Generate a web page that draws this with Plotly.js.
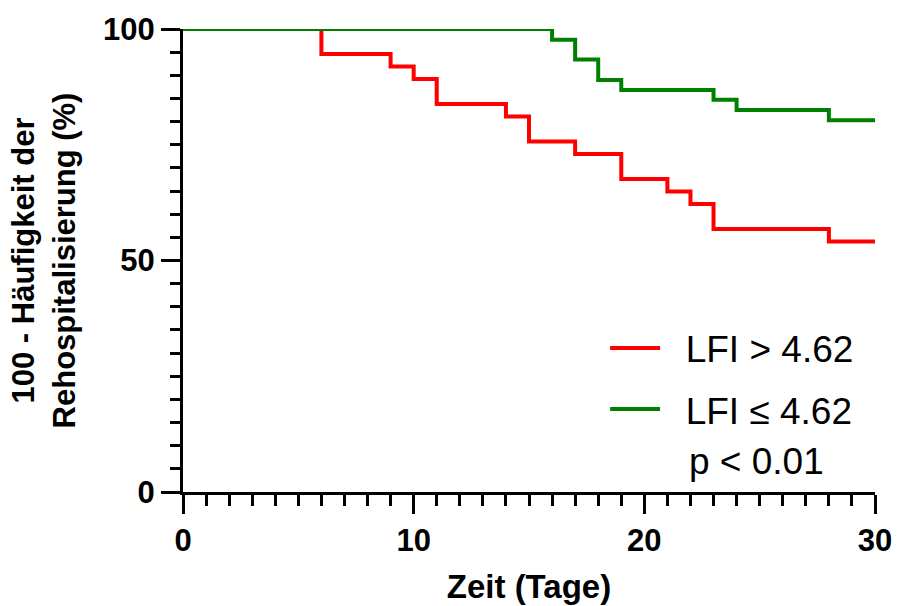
<!DOCTYPE html>
<html>
<head>
<meta charset="utf-8">
<script src="https://cdn.plot.ly/plotly-3.0.1.min.js"></script>
<style>html,body{margin:0;padding:0;background:#fff;}#chart{width:897px;height:606px;}</style>
</head>
<body>
<div id="chart"></div>
<script>
// Data
const redName = "LFI > 4.62";
const redDays = [0, 6, 9, 10, 11, 14, 15, 17, 19, 21, 22, 23, 28, 30];
const redValues = [100, 94.6, 91.9, 89.2, 83.8, 81.1, 75.7, 73.0, 67.6, 64.9, 62.2, 56.8, 54.1, 54.1];

const greenName = "LFI \u2264 4.62";
const greenDays = [0, 16, 17, 18, 19, 23, 24, 28, 30];
const greenValues = [100, 97.7, 93.4, 89.0, 86.8, 84.7, 82.5, 80.3, 80.3];

const pText = "p < 0.01";
const xTitle = "Zeit (Tage)";
const yTitle = "100 - Häufigkeit der<br>Rehospitalisierung (%)";
const xTicks = [0, 10, 20, 30];
const yTicks = [0, 50, 100];

const FONT = "Liberation Sans, Arial, sans-serif";
const PAD = "\u00a0\u00a0";

const traces = [
  {x: redDays, y: redValues, name: PAD + redName, type: "scatter", mode: "lines",
   line: {shape: "hv", color: "#ff0000", width: 4}, cliponaxis: false, legendgroup: "a"},
  {x: greenDays, y: greenValues, name: PAD + greenName, type: "scatter", mode: "lines",
   line: {shape: "hv", color: "#008000", width: 4}, cliponaxis: false, legendgroup: "b"}
];

const layout = {
  width: 897, height: 606,
  margin: {l: 183, r: 22, t: 29, b: 114},
  paper_bgcolor: "#fff", plot_bgcolor: "#fff",
  showlegend: true,
  legend: {x: 0.61, y: 0.377, xanchor: "left", yanchor: "top",
           font: {family: FONT, size: 37, color: "#000"},
           bgcolor: "rgba(0,0,0,0)", itemwidth: 50, traceorder: "grouped", tracegroupgap: 10},
  xaxis: {
    range: [0, 30], tickvals: xTicks, ticktext: xTicks.map(String),
    showgrid: false, zeroline: false, showline: true, linecolor: "#000", linewidth: 3,
    ticks: "outside", ticklen: 19, tickwidth: 3, tickcolor: "#000",
    minor: {dtick: 1, tick0: 0, ticks: "outside", ticklen: 11, tickwidth: 3, tickcolor: "#000", showgrid: false},
    tickfont: {family: FONT, size: 31, color: "#000", weight: "bold"},
    ticklabelstandoff: 0,
    title: {text: xTitle, font: {family: FONT, size: 33, color: "#000", weight: "bold"}, standoff: 18},
    fixedrange: true
  },
  yaxis: {
    range: [0, 100], tickvals: yTicks, ticktext: yTicks.map(String),
    showgrid: false, zeroline: false, showline: true, linecolor: "#000", linewidth: 3,
    ticks: "outside", ticklen: 19, tickwidth: 3, tickcolor: "#000",
    minor: {dtick: 5, tick0: 0, ticks: "outside", ticklen: 10, tickwidth: 3, tickcolor: "#000", showgrid: false},
    tickfont: {family: FONT, size: 31, color: "#000", weight: "bold"},
    ticklabelstandoff: 0,
    title: {text: yTitle, font: {family: FONT, size: 31, color: "#000", weight: "bold"}, standoff: 19},
    fixedrange: true
  },
  annotations: [
    {text: pText, xref: "paper", yref: "paper", x: 0.728, y: 0.065, xanchor: "left", yanchor: "middle",
     showarrow: false, font: {family: FONT, size: 37, color: "#000"}}
  ]
};

Plotly.newPlot("chart", traces, layout, {displayModeBar: false, staticPlot: true});
</script>
</body>
</html>
